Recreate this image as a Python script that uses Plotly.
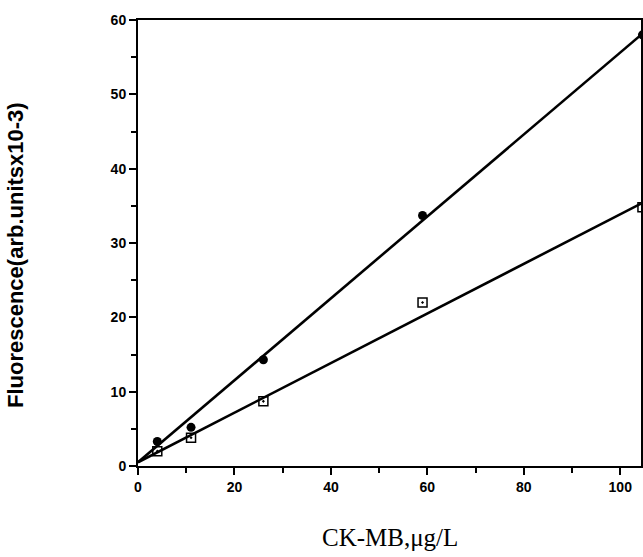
import plotly.graph_objects as go

# Data
conc = [4, 11, 26, 59, 104.6]
fluor_circles = [3.3, 5.2, 14.3, 33.7, 58.0]
fluor_squares = [2.0, 3.8, 8.7, 22.0, 34.8]

fit_x = [0, 104.3]
fit_upper = [0.5, 58.0]
fit_lower = [0.5, 35.3]

x_ticks = [0, 20, 40, 60, 80, 100]
y_ticks = [0, 10, 20, 30, 40, 50, 60]

fig = go.Figure()
fig.add_trace(go.Scatter(x=fit_x, y=fit_upper, mode="lines",
                         line=dict(color="black", width=2.6), showlegend=False))
fig.add_trace(go.Scatter(x=fit_x, y=fit_lower, mode="lines",
                         line=dict(color="black", width=2.6), showlegend=False))
fig.add_trace(go.Scatter(x=conc, y=fluor_circles, mode="markers",
                         marker=dict(symbol="circle", size=9, color="black"),
                         showlegend=False))
fig.add_trace(go.Scatter(x=conc, y=fluor_squares, mode="markers",
                         marker=dict(symbol="square-open-dot", size=9, color="black",
                                     line=dict(width=1.5, color="black")),
                         showlegend=False))

tickfont = dict(family="Liberation Sans, Arial, sans-serif", size=14, color="black",
                weight="bold")

fig.update_layout(
    width=643, height=557,
    margin=dict(l=138, r=2, t=20, b=91),
    paper_bgcolor="white", plot_bgcolor="white",
    xaxis=dict(range=[0, 104.3], tickvals=x_ticks, ticks="outside", ticklen=7,
               tickwidth=1.5, tickcolor="black", showgrid=False, zeroline=False,
               showline=True, linecolor="black", linewidth=2, mirror=True,
               tickfont=tickfont, automargin=False,
               minor=dict(dtick=10, ticks="outside", ticklen=5, tickwidth=1.5,
                          tickcolor="black", showgrid=False)),
    yaxis=dict(range=[0, 60], tickvals=y_ticks, ticks="outside", ticklen=7,
               tickwidth=1.5, tickcolor="black", showgrid=False, zeroline=False,
               showline=True, linecolor="black", linewidth=2, mirror=True,
               tickfont=tickfont, automargin=False,
               minor=dict(dtick=5, ticks="outside", ticklen=5, tickwidth=1.5,
                          tickcolor="black", showgrid=False)),
    annotations=[
        dict(text="<b>Fluorescence(arb.unitsx10-3)</b>", xref="paper", yref="paper",
             x=0, y=0.5, xshift=-123, yshift=-12, textangle=-90, showarrow=False,
             xanchor="center", yanchor="middle",
             font=dict(family="Liberation Sans, Arial, sans-serif", size=22, color="black")),
        dict(text="CK-MB,μg/L", xref="paper", yref="paper",
             x=0.5, y=0, yshift=-71, showarrow=False, xanchor="center", yanchor="middle",
             font=dict(family="Liberation Serif, Times New Roman, serif", size=25, color="black")),
    ],
)

fig.write_html(
    "out.html",
    config={"displayModeBar": False},
    post_script="document.body.style.margin='0';document.body.style.overflow='hidden';",
)
